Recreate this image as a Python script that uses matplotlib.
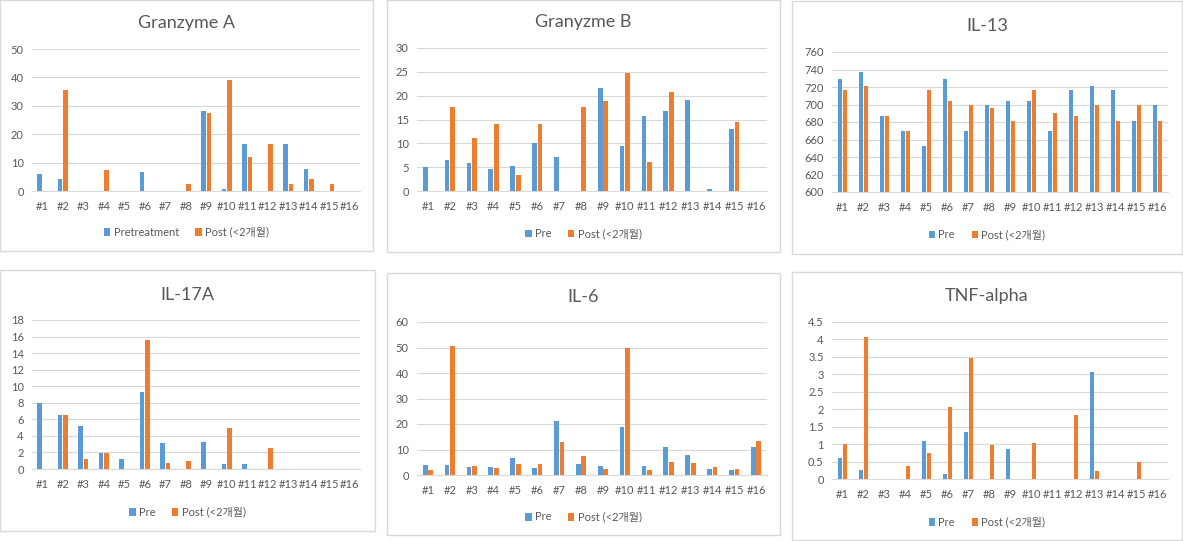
import matplotlib
matplotlib.use("Agg")
import matplotlib.pyplot as plt
from matplotlib.patches import Rectangle
import numpy as np

plt.rcParams['font.family'] = ['Lato', 'Noto Sans CJK KR', 'DejaVu Sans']

categories = ["#%d" % i for i in range(1, 17)]

gzmA_pre  = [5.9, 4.1, 0, 0, 0, 6.6, 0, 0, 28.2, 0.6, 16.5, 0, 16.5, 7.7, 0, 0]
gzmA_post = [0, 35.4, 0, 7.3, 0, 0, 0, 2.4, 27.5, 39.2, 12.0, 16.5, 2.4, 4.1, 2.4, 0]

gzmB_pre  = [5.0, 6.5, 5.9, 4.7, 5.3, 10.0, 7.2, 0, 21.6, 9.5, 15.7, 16.8, 19.1, 0.5, 13.1, 0]
gzmB_post = [0, 17.7, 11.2, 14.1, 3.4, 14.1, 0, 17.7, 18.9, 24.8, 6.1, 20.7, 0, 0, 14.5, 0]

il13_pre  = [728.9, 736.9, 686.4, 669.8, 652.7, 728.9, 669.8, 699.7, 703.9, 703.9, 669.8, 716.4, 720.9, 716.4, 681.5, 699.7]
il13_post = [716.4, 720.9, 686.4, 669.8, 716.4, 703.9, 699.7, 696.3, 681.5, 716.4, 690.2, 686.4, 699.7, 681.5, 699.7, 681.5]

il17_pre  = [7.95, 6.5, 5.2, 1.94, 1.25, 9.36, 3.15, 0, 3.3, 0.65, 0.65, 0, 0, 0, 0, 0]
il17_post = [0, 6.5, 1.25, 1.94, 0, 15.6, 0.73, 1.0, 0, 4.96, 0, 2.58, 0, 0, 0, 0]

il6_pre  = [4.05, 4.05, 3.27, 3.27, 6.8, 2.88, 21.3, 4.44, 3.66, 18.95, 3.66, 11.1, 7.7, 2.48, 2.09, 11.1]
il6_post = [1.96, 50.5, 3.66, 2.88, 4.44, 4.18, 12.8, 7.58, 2.48, 49.7, 1.83, 4.97, 4.84, 3.27, 2.48, 13.2]

tnf_pre  = [0.6, 0.26, 0, 0, 1.1, 0.14, 1.35, 0, 0.87, 0, 0, 0, 3.06, 0, 0, 0]
tnf_post = [0.99, 4.08, 0, 0.37, 0.75, 2.06, 3.46, 0.98, 0, 1.04, 0, 1.83, 0.24, 0, 0.5, 0]

W, H = 1183, 541
fig = plt.figure(figsize=(W / 100, H / 100), dpi=100)

BLUE = '#5B9BD5'
ORANGE = '#ED7D31'
GRID = '#D9D9D9'
TXT = '#595959'

def fx(x):
    return x / W

def fy(y):
    return 1 - y / H

panels = [
    ("Granzyme A", gzmA_pre, gzmA_post, "Pretreatment", (0, 50), 10,
     (0, 0, 373, 251), (32, 49, 360, 191), 23, 232),
    ("Granyzme B", gzmB_pre, gzmB_post, "Pre", (0, 30), 5,
     (387, 0, 780, 252), (417, 48, 767, 191), 22, 234),
    ("IL-13", il13_pre, il13_post, "Pre", (600, 760), 20,
     (792, 1, 1182, 254), (832, 52, 1168, 192), 26, 235),
    ("IL-17A", il17_pre, il17_post, "Pre", (0, 18), 2,
     (0, 270, 375, 531), (32, 320, 360, 469), 295, 512),
    ("IL-6", il6_pre, il6_post, "Pre", (0, 60), 10,
     (387, 273, 780, 535), (417, 322, 767, 475), 297, 517),
    ("TNF-alpha", tnf_pre, tnf_post, "Pre", (0, 4.5), 0.5,
     (792, 272, 1182, 540), (832, 322, 1168, 479), 296, 522),
]

x = np.arange(len(categories))
bw = 0.22
off = 0.125

for (title, pre, post, prelab, ylim, step, box, area, ty, ly) in panels:
    bx0, by0, bx1, by1 = box
    fig.patches.append(Rectangle((fx(bx0), fy(by1)), fx(bx1 - bx0), (by1 - by0) / H,
                                 transform=fig.transFigure, fill=False,
                                 edgecolor=GRID, linewidth=1.0))
    ax0, ay0, ax1, ay1 = area
    ax = fig.add_axes([fx(ax0), fy(ay1), fx(ax1 - ax0), (ay1 - ay0) / H])
    base = ylim[0]
    pre_h = [v - base if v > 0 else 0 for v in pre]
    post_h = [v - base if v > 0 else 0 for v in post]
    b1 = ax.bar(x - off, pre_h, bw, bottom=base, color=BLUE, label=prelab, zorder=3)
    b2 = ax.bar(x + off, post_h, bw, bottom=base, color=ORANGE, label="Post (<2개월)", zorder=3)
    ax.set_xlim(-0.5, len(categories) - 0.5)
    ax.set_ylim(*ylim)
    ticks = np.arange(ylim[0], ylim[1] + step / 2, step)
    ax.set_yticks(ticks)
    ax.set_yticklabels(["%g" % t for t in ticks])
    ax.set_xticks(x)
    ax.set_xticklabels(categories)
    ax.tick_params(axis='both', length=0, labelsize=8, colors=TXT)
    ax.tick_params(axis='x', pad=7)
    ax.tick_params(axis='y', pad=6)
    for s in ax.spines.values():
        s.set_visible(False)
    ax.spines['bottom'].set_visible(True)
    ax.spines['bottom'].set_color(GRID)
    ax.yaxis.grid(True, color=GRID, linewidth=0.8, zorder=0)
    ax.set_axisbelow(True)
    fig.text(fx((bx0 + bx1) / 2), fy(ty), title, ha='center', va='center',
             fontsize=13, color=TXT)
    ax.legend(handles=[b1, b2], loc='center', ncol=2, frameon=False,
              bbox_to_anchor=(fx((bx0 + bx1) / 2), fy(ly)), bbox_transform=fig.transFigure,
              fontsize=8, handlelength=0.55, handleheight=0.7, handletextpad=0.3,
              columnspacing=1.5, labelcolor=TXT)

fig.savefig("out.png", dpi=100, facecolor='white')
